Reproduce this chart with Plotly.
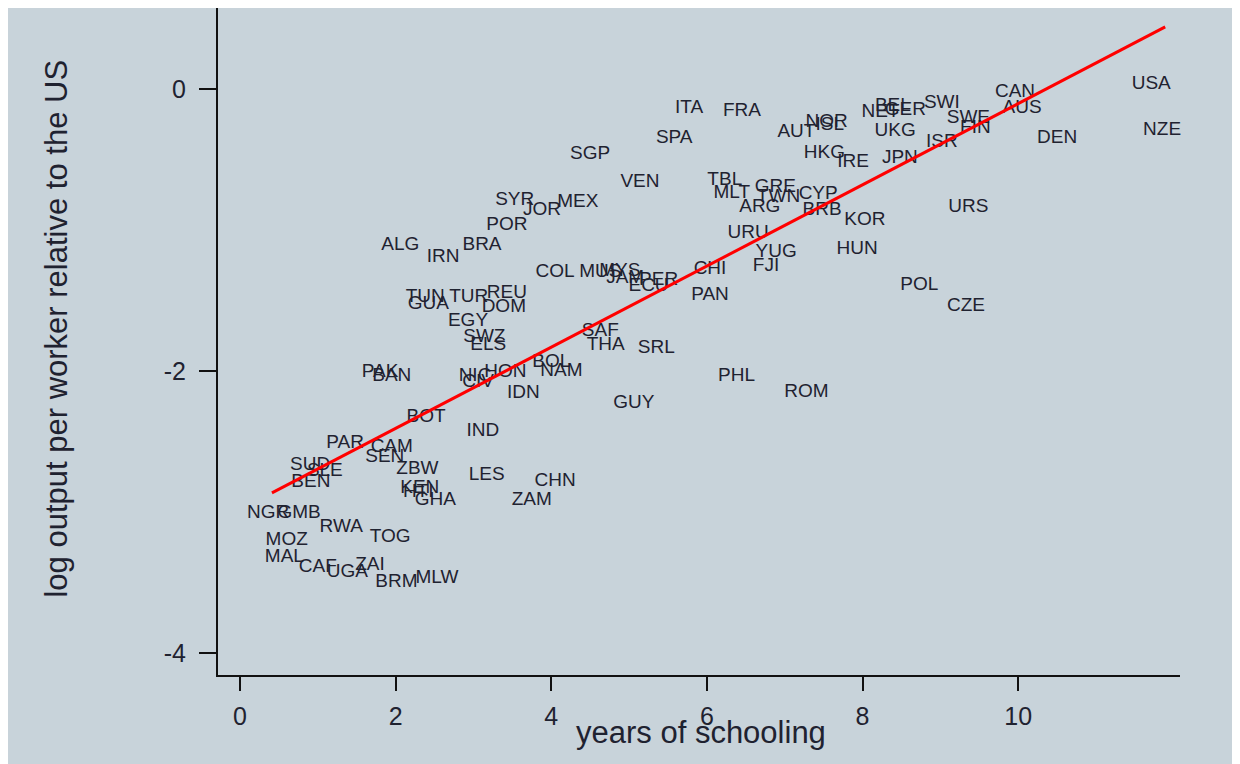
import plotly.graph_objects as go

# ---- data ----
codes = ["USA","NZE","CAN","AUS","SWI","SWE","FIN","ISR","DEN","URS",
         "JPN","IRE","HKG","UKG","NOR","ISL","AUT","NET","BEL","GER",
         "FRA","ITA","SPA","SGP","VEN","TBL","MLT","GRE","TWN","CYP",
         "ARG","BRB","KOR","URU","YUG","FJI","HUN","CHI","PAN","POL",
         "CZE","PHL","ROM","GUY","SRL","THA","SAF","NAM","BOL","NIC",
         "HON","CIV","IDN","IND","PAK","BAN","BOT","PAR","CAM","SEN",
         "SUD","SLE","BEN","ZBW","LES","CHN","ZAM","KEN","HTI","GHA",
         "NGR","GMB","RWA","TOG","MOZ","MAL","CAF","UGA","ZAI","BRM",
         "MLW","ALG","IRN","BRA","POR","SYR","JOR","MEX","COL","MUS",
         "MYS","JAM","PER","ECU","TUN","GUA","TUR","REU","DOM","EGY",
         "SWZ","ELS"]
schooling = [11.71,11.85,9.96,10.05,9.02,9.36,9.45,9.02,10.50,9.36,
             8.48,7.88,7.51,8.42,7.54,7.58,7.15,8.23,8.39,8.55,
             6.45,5.77,5.58,4.50,5.14,6.23,6.32,6.88,6.92,7.43,
             6.68,7.48,8.03,6.53,6.89,6.76,7.93,6.04,6.04,8.73,
             9.33,6.38,7.28,5.06,5.35,4.70,4.63,4.13,4.00,3.02,
             3.41,3.06,3.64,3.12,1.80,1.95,2.39,1.35,1.95,1.86,
             0.90,1.09,0.91,2.28,3.17,4.05,3.75,2.31,2.29,2.51,
             0.36,0.76,1.30,1.93,0.60,0.57,1.00,1.38,1.67,2.01,
             2.53,2.06,2.61,3.11,3.43,3.53,3.88,4.34,4.05,4.63,
             4.88,4.95,5.38,5.25,2.38,2.42,2.94,3.43,3.39,2.93,
             3.14,3.19]
log_output = [0.03,-0.29,-0.02,-0.135,-0.10,-0.21,-0.28,-0.376,-0.35,-0.84,
              -0.49,-0.52,-0.455,-0.30,-0.235,-0.26,-0.31,-0.163,-0.12,-0.15,
              -0.155,-0.135,-0.35,-0.46,-0.66,-0.645,-0.74,-0.70,-0.77,-0.75,
              -0.84,-0.86,-0.93,-1.02,-1.16,-1.26,-1.14,-1.28,-1.46,-1.39,
              -1.54,-2.035,-2.15,-2.23,-1.84,-1.82,-1.72,-2.0,-1.94,-2.035,
              -2.01,-2.08,-2.16,-2.43,-2.01,-2.04,-2.33,-2.51,-2.54,-2.61,
              -2.67,-2.71,-2.79,-2.70,-2.74,-2.78,-2.92,-2.83,-2.86,-2.92,
              -3.01,-3.01,-3.11,-3.18,-3.20,-3.32,-3.39,-3.43,-3.38,-3.50,
              -3.47,-1.11,-1.19,-1.11,-0.965,-0.79,-0.86,-0.80,-1.30,-1.30,
              -1.29,-1.34,-1.36,-1.40,-1.48,-1.53,-1.48,-1.45,-1.55,-1.645,
              -1.76,-1.82]

# fitted regression line, endpoints
fit_x = [0.41, 11.89]
fit_y = [-2.865, 0.44]

x_ticks = [0, 2, 4, 6, 8, 10]
y_ticks = [0, -2, -4]
y_tick_labels = ["0", "-2", "-4"]

BG = "rgb(200,211,218)"
INK = "#1f2230"
FONT = "Liberation Sans, Arial, sans-serif"

fig = go.Figure()
fig.add_trace(go.Scatter(
    x=schooling, y=log_output, text=codes, mode="text",
    textposition="middle center",
    textfont=dict(family=FONT, size=19, color=INK),
    hoverinfo="text", showlegend=False, cliponaxis=False))
fig.add_trace(go.Scatter(
    x=fit_x, y=fit_y, mode="lines",
    line=dict(color="#ff0000", width=3), showlegend=False, hoverinfo="skip"))

axis_common = dict(showgrid=False, zeroline=False, showline=True,
                   linecolor="#111111", linewidth=2, ticks="outside",
                   tickcolor="#111111", tickwidth=2,
                   tickfont=dict(family=FONT, size=25, color=INK))

fig.update_layout(
    width=1240, height=764,
    margin=dict(l=210, r=68, t=0, b=97, pad=0),
    paper_bgcolor=BG, plot_bgcolor=BG,
    xaxis=dict(range=[-0.283, 12.08], tickvals=x_ticks, ticklen=14,
               ticklabelstandoff=4, **axis_common),
    yaxis=dict(range=[-4.156, 0.574], tickvals=y_ticks, ticktext=y_tick_labels,
               ticklen=17, ticklabelstandoff=8, **axis_common),
    annotations=[
        dict(text="years of schooling", xref="paper", yref="paper",
             x=0.502, y=-0.086, xanchor="center", yanchor="middle", showarrow=False,
             font=dict(family=FONT, size=31, color=INK)),
        dict(text="log output per worker relative to the US", xref="paper", yref="paper",
             x=-0.168, y=0.52, xanchor="center", yanchor="middle", showarrow=False,
             textangle=-90,
             font=dict(family=FONT, size=31, color=INK)),
    ],
)

fig.write_html("out.html")
